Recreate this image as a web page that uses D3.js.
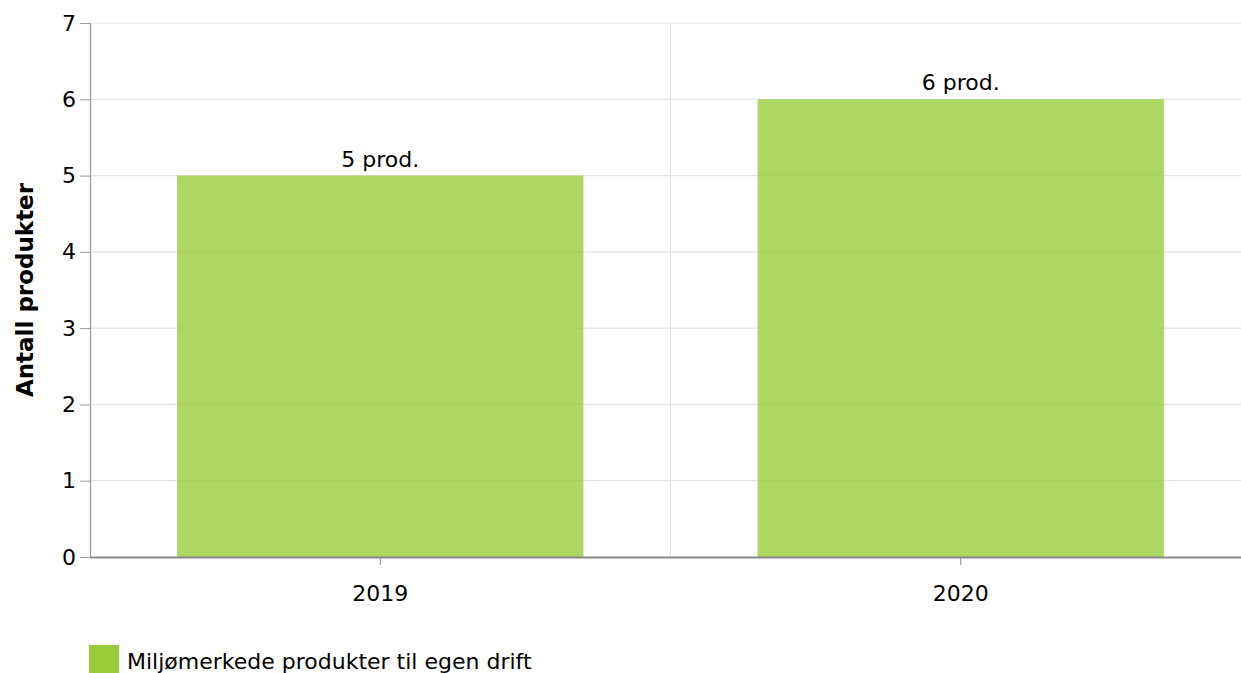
<!DOCTYPE html>
<html>
<head>
<meta charset="utf-8">
<script src="https://cdn.jsdelivr.net/npm/d3@7"></script>
<style>
body { margin: 0; background: #fff; }
text { font-family: "DejaVu Sans", Verdana, sans-serif; }
</style>
</head>
<body>
<div id="chart"></div>
<script>
const years = ['2019', '2020'];
const values = [5, 6];
const labels = ['5 prod.', '6 prod.'];
const yTicks = [0, 1, 2, 3, 4, 5, 6, 7];
const seriesName = 'Miljømerkede produkter til egen drift';

const width = 1241, height = 673;
const plotLeft = 90, plotRight = 1251, plotTop = 23, plotBottom = 557;
const fs = '22px';

const svg = d3.select('#chart')
    .append('svg')
    .attr('width', width)
    .attr('height', height);

const x = d3.scaleBand().domain(years).range([plotLeft, plotRight]).paddingInner(0).paddingOuter(0);
const y = d3.scaleLinear().domain([0, 7]).range([plotBottom, plotTop]);

// horizontal grid
svg.append('g')
    .selectAll('line')
    .data(yTicks.slice(1))
    .enter().append('line')
    .attr('x1', plotLeft).attr('x2', width)
    .attr('y1', d => y(d)).attr('y2', d => y(d))
    .attr('stroke', '#e3e3e3').attr('stroke-width', 1.2);

// vertical grid between categories
svg.append('g')
    .selectAll('line')
    .data(years.slice(1))
    .enter().append('line')
    .attr('x1', d => x(d)).attr('x2', d => x(d))
    .attr('y1', plotTop).attr('y2', plotBottom)
    .attr('stroke', '#e3e3e3').attr('stroke-width', 1.2);

// bars
const bw = x.bandwidth() * 0.7;
svg.append('g')
    .selectAll('rect')
    .data(years)
    .enter().append('rect')
    .attr('x', (d) => x(d) + (x.bandwidth() - bw) / 2)
    .attr('y', (d, i) => y(values[i]))
    .attr('width', bw)
    .attr('height', (d, i) => y(0) - y(values[i]))
    .attr('fill', '#9acc3c')
    .attr('fill-opacity', 0.8);

// bar labels
svg.append('g')
    .selectAll('text')
    .data(years)
    .enter().append('text')
    .attr('x', d => x(d) + x.bandwidth() / 2)
    .attr('y', (d, i) => y(values[i]) - 9)
    .attr('text-anchor', 'middle')
    .attr('font-size', fs)
    .attr('fill', '#000')
    .text((d, i) => labels[i]);

// y axis
const yAxis = svg.append('g')
    .attr('transform', `translate(${plotLeft},0)`)
    .call(d3.axisLeft(y).tickValues(yTicks).tickFormat(d3.format('d')).tickSize(10).tickPadding(4));
yAxis.select('.domain').attr('stroke', '#999').attr('stroke-width', 1.2);
yAxis.selectAll('.tick line').attr('stroke', '#999');
yAxis.selectAll('.tick text')
    .attr('font-size', fs)
    .attr('fill', '#000')
    .style('font-family', '"DejaVu Sans", Verdana, sans-serif');

// x axis
const xAxis = svg.append('g')
    .attr('transform', `translate(0,${plotBottom})`)
    .call(d3.axisBottom(x).tickSize(8).tickSizeOuter(0).tickPadding(20));
xAxis.select('.domain').attr('stroke', '#888').attr('stroke-width', 2);
xAxis.selectAll('.tick line').attr('stroke', '#888');
xAxis.selectAll('.tick text')
    .attr('font-size', fs)
    .attr('fill', '#000')
    .style('font-family', '"DejaVu Sans", Verdana, sans-serif');

// y title
svg.append('text')
    .attr('transform', `translate(33,${(plotTop + plotBottom) / 2}) rotate(-90)`)
    .attr('text-anchor', 'middle')
    .attr('font-size', '23px')
    .attr('font-weight', 'bold')
    .text('Antall produkter');

// legend
svg.append('rect')
    .attr('x', 89).attr('y', 645)
    .attr('width', 30).attr('height', 28)
    .attr('fill', '#9acc3c');
svg.append('text')
    .attr('x', 127).attr('y', 669)
    .attr('font-size', fs)
    .text(seriesName);
</script>
</body>
</html>
